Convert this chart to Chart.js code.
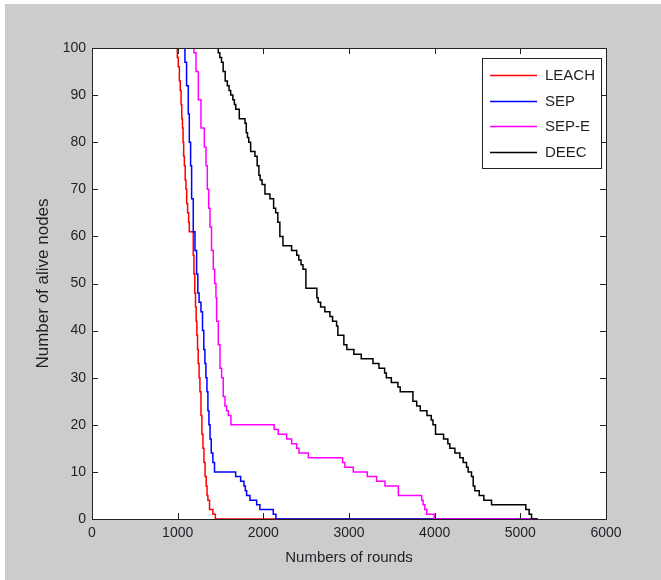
<!DOCTYPE html>
<html>
<head>
<meta charset="utf-8">
<title>Number of alive nodes</title>
<script src="https://cdn.jsdelivr.net/npm/chart.js@4.4.1/dist/chart.umd.min.js"></script>
<style>
    html, body { margin: 0; padding: 0; background: #fff; }
    #wrap { width: 661px; height: 580px; }
</style>
</head>
<body>
<div id="wrap"><canvas id="aliveChart" width="661" height="580"></canvas></div>
<script>
// ====== Data (rounds at which the alive count steps to the given value) ======
const seriesNames = ["LEACH", "SEP", "SEP-E", "DEEC"];

const leachRounds = [968, 996, 1007, 1020, 1030, 1040, 1048, 1056, 1063, 1070, 1078, 1088, 1097, 1105, 1116, 1128, 1136, 1182, 1190, 1200, 1208, 1216, 1224, 1232, 1240, 1250, 1260, 1272, 1283, 1295, 1307, 1320, 1333, 1343, 1353, 1372, 1411, 1440, 5200];
const leachAlive  = [100, 98, 96, 93, 91, 88, 85, 83, 80, 77, 75, 72, 70, 67, 65, 63, 61, 56, 52, 48, 45, 42, 39, 36, 33, 30, 27, 22, 18, 15, 12, 9, 7, 5, 4, 2, 1, 0, 0];

const sepRounds = [1066, 1085, 1104, 1124, 1136, 1151, 1163, 1182, 1202, 1221, 1235, 1250, 1272, 1290, 1305, 1318, 1330, 1342, 1353, 1365, 1378, 1392, 1411, 1430, 1677, 1735, 1774, 1790, 1805, 1844, 1922, 1960, 2116, 2147, 5200];
const sepAlive  = [100, 97, 92, 86, 80, 75, 68, 61, 57, 52, 48, 46, 44, 40, 36, 33, 30, 27, 23, 20, 17, 14, 12, 10, 9, 8, 7, 6, 5, 4, 3, 2, 1, 0, 0];

const sepeRounds = [1163, 1190, 1214, 1241, 1272, 1311, 1331, 1346, 1362, 1377, 1395, 1416, 1432, 1447, 1455, 1474, 1494, 1513, 1532, 1552, 1571, 1591, 1622, 2127, 2174, 2272, 2330, 2389, 2416, 2525, 2925, 2952, 3050, 3213, 3322, 3420, 3576, 3848, 3865, 3885, 3907, 3994, 5200];
const sepeAlive  = [100, 99, 95, 89, 83, 79, 75, 70, 66, 62, 57, 53, 50, 47, 42, 37, 32, 30, 26, 24, 23, 22, 20, 19, 18, 17, 16, 15, 14, 13, 12, 11, 10, 9, 8, 7, 5, 4, 3, 2, 1, 0, 0];

const deecRounds = [1435, 1474, 1492, 1512, 1531, 1555, 1580, 1600, 1619, 1644, 1662, 1678, 1719, 1786, 1801, 1815, 1830, 1852, 1902, 1928, 1948, 1963, 1985, 2019, 2077, 2120, 2144, 2169, 2193, 2229, 2330, 2390, 2414, 2440, 2463, 2497, 2625, 2640, 2669, 2718, 2777, 2808, 2855, 2870, 2940, 2975, 3057, 3143, 3280, 3350, 3416, 3436, 3494, 3571, 3598, 3746, 3790, 3832, 3910, 3960, 3980, 4010, 4104, 4154, 4177, 4236, 4294, 4333, 4372, 4391, 4430, 4450, 4469, 4520, 4574, 4664, 5064, 5103, 5131, 5200];
const deecAlive  = [100, 99, 98, 97, 95, 93, 92, 91, 90, 89, 88, 87, 85, 84, 82, 81, 80, 78, 77, 75, 73, 72, 71, 69, 68, 66, 65, 63, 60, 58, 57, 56, 55, 54, 53, 49, 47, 46, 45, 44, 43, 42, 41, 39, 37, 36, 35, 34, 33, 32, 31, 30, 29, 28, 27, 25, 24, 23, 22, 21, 20, 18, 17, 16, 15, 14, 13, 12, 11, 10, 9, 7, 6, 5, 4, 3, 2, 1, 0, 0];

const xTickValues = [0, 1000, 2000, 3000, 4000, 5000, 6000];
const yTickValues = [0, 10, 20, 30, 40, 50, 60, 70, 80, 90, 100];

// ====== Styles ======
const FONT = "'Liberation Sans', Arial, sans-serif";
const TEXT_COLOR = "#1f1f26";
const AXIS_COLOR = "#222";
const FIGURE_GRAY = "#cccccc";
const TICK_LEN = 6;
const lineColors = ["#ff0000", "#0000ff", "#ff00ff", "#000000"];

function toPoints(xs, ys) {
    return xs.map((x, i) => ({ x, y: ys[i] }));
}

const seriesData = [
    toPoints(leachRounds, leachAlive),
    toPoints(sepRounds, sepAlive),
    toPoints(sepeRounds, sepeAlive),
    toPoints(deecRounds, deecAlive)
];

// ====== MATLAB-like frame: gray figure, boxed axes, inward ticks, legend ======
function drawLegend(chart) {
    const { ctx, chartArea: a } = chart;
    const w = 119, h = 110;
    const bx = a.right - 5 - w;
    const by = a.top + 10;

    ctx.save();
    ctx.fillStyle = "#fff";
    ctx.fillRect(bx, by, w, h);
    ctx.strokeStyle = AXIS_COLOR;
    ctx.lineWidth = 1;
    ctx.strokeRect(bx + 0.5, by + 0.5, w, h);

    ctx.font = `15px ${FONT}`;
    ctx.textBaseline = "middle";
    ctx.textAlign = "left";
    chart.data.datasets.forEach((ds, i) => {
        const rowY = Math.round(by + 17 + i * 25.7) + 0.5;
        ctx.strokeStyle = ds.borderColor;
        ctx.lineWidth = 1.5;
        ctx.beginPath();
        ctx.moveTo(bx + 8, rowY);
        ctx.lineTo(bx + 55, rowY);
        ctx.stroke();
        ctx.fillStyle = TEXT_COLOR;
        ctx.fillText(ds.label, bx + 63, rowY);
    });
    ctx.restore();
}

const matlabFrame = {
    id: "matlabFrame",
    beforeDraw(chart) {
        const { ctx, width, height, chartArea: a } = chart;
        ctx.save();
        ctx.fillStyle = "#fff";
        ctx.fillRect(0, 0, width, height);
        ctx.fillStyle = FIGURE_GRAY;
        ctx.fillRect(5, 4, width - 5, height - 4);
        ctx.fillStyle = "#fff";
        ctx.fillRect(a.left, a.top, a.right - a.left, a.bottom - a.top);
        ctx.restore();
    },
    afterDatasetsDraw(chart) {
        const { ctx, chartArea: a, scales } = chart;
        ctx.save();
        ctx.strokeStyle = AXIS_COLOR;
        ctx.lineWidth = 1;
        ctx.beginPath();
        scales.x.ticks.forEach((t) => {
            const px = Math.round(scales.x.getPixelForValue(t.value)) + 0.5;
            ctx.moveTo(px, a.bottom);
            ctx.lineTo(px, a.bottom - TICK_LEN);
            ctx.moveTo(px, a.top);
            ctx.lineTo(px, a.top + TICK_LEN);
        });
        scales.y.ticks.forEach((t) => {
            const py = Math.round(scales.y.getPixelForValue(t.value)) + 0.5;
            ctx.moveTo(a.left, py);
            ctx.lineTo(a.left + TICK_LEN, py);
            ctx.moveTo(a.right, py);
            ctx.lineTo(a.right - TICK_LEN, py);
        });
        ctx.stroke();
        ctx.strokeRect(Math.round(a.left) + 0.5, Math.round(a.top) + 0.5,
            Math.round(a.right - a.left), Math.round(a.bottom - a.top));
        ctx.restore();
        drawLegend(chart);
    }
};

// ====== Chart ======
new Chart(document.getElementById("aliveChart").getContext("2d"), {
    type: "line",
    data: {
        datasets: seriesNames.map((name, i) => ({
            label: name,
            data: seriesData[i],
            borderColor: lineColors[i],
            backgroundColor: lineColors[i],
            borderWidth: 1.5,
            pointRadius: 0,
            stepped: "before",
            fill: false,
            // later series drawn on top, like MATLAB's hold on
            order: seriesNames.length - i
        }))
    },
    options: {
        responsive: false,
        animation: false,
        events: [],
        layout: { padding: { left: 0, right: 55, top: 48, bottom: 0 } },
        plugins: {
            legend: { display: false },
            tooltip: { enabled: false }
        },
        scales: {
            x: {
                type: "linear",
                min: 0,
                max: 6000,
                afterBuildTicks: (s) => { s.ticks = xTickValues.map((v) => ({ value: v })); },
                afterFit: (s) => { s.height = 61; },
                grid: { display: false, drawTicks: false },
                border: { display: false },
                ticks: {
                    padding: 6,
                    color: TEXT_COLOR,
                    font: { family: FONT, size: 14 },
                    maxRotation: 0,
                    callback: (v) => String(v)
                },
                title: {
                    display: true,
                    text: "Numbers of rounds",
                    color: TEXT_COLOR,
                    font: { family: FONT, size: 15 },
                    padding: { top: 0, bottom: 13 }
                }
            },
            y: {
                min: 0,
                max: 100,
                afterBuildTicks: (s) => { s.ticks = yTickValues.map((v) => ({ value: v })); },
                afterFit: (s) => { s.width = 92; },
                grid: { display: false, drawTicks: false },
                border: { display: false },
                ticks: {
                    padding: 6,
                    color: TEXT_COLOR,
                    font: { family: FONT, size: 14 },
                    callback: (v) => String(v)
                },
                title: {
                    display: true,
                    text: "Number of alive nodes",
                    color: TEXT_COLOR,
                    font: { family: FONT, size: 17 },
                    padding: { top: 33, bottom: 0 }
                }
            }
        }
    },
    plugins: [matlabFrame]
});
</script>
</body>
</html>
